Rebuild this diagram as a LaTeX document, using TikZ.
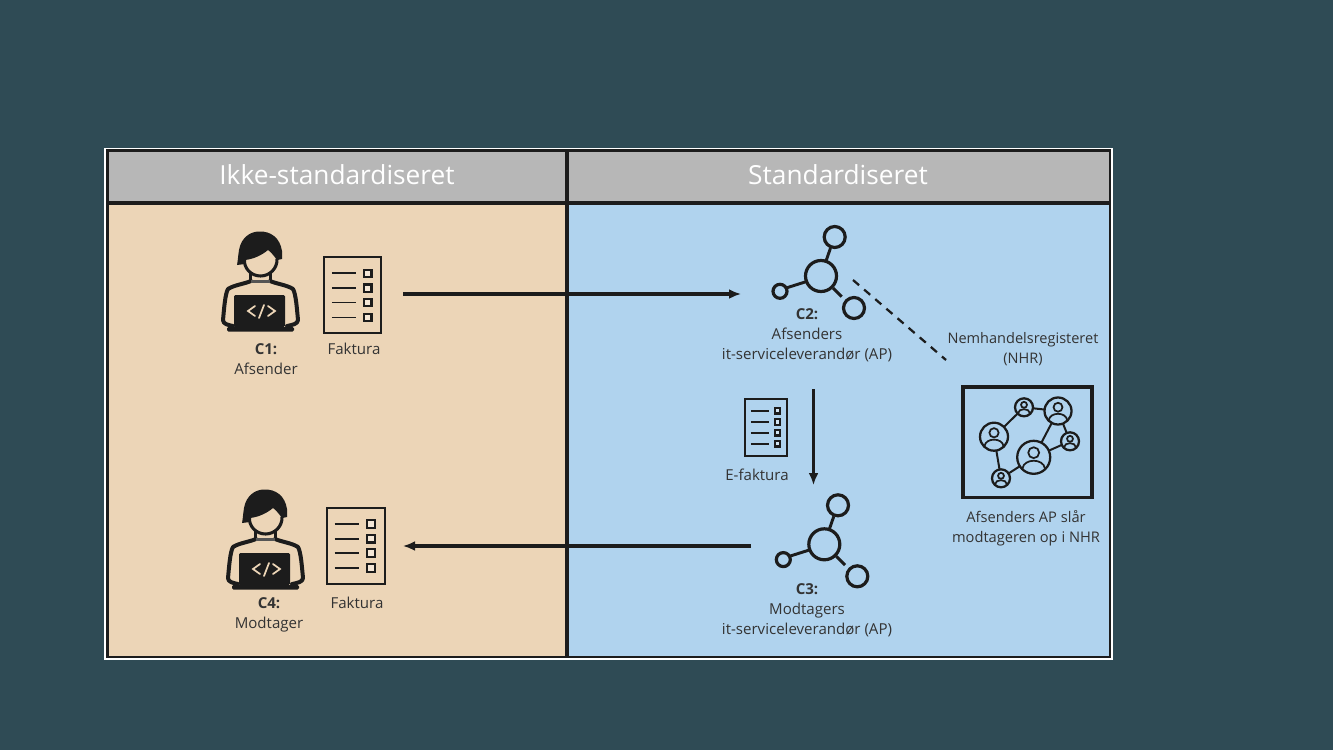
\documentclass[tikz,border=0pt]{standalone}
\usepackage{fontspec}
\setmainfont{Open Sans}
\usetikzlibrary{arrows.meta}
\definecolor{bgc}{HTML}{2F4B55}
\definecolor{peach}{HTML}{ECD5B7}
\definecolor{skyc}{HTML}{B0D3EE}
\definecolor{headc}{HTML}{B7B7B7}
\definecolor{ink}{HTML}{1C1C1C}
\tikzset{
  x=0.75pt,y=-0.75pt,
  txt/.style={font=\fontsize{11.3pt}{15pt}\selectfont,text=ink!90,align=center,inner sep=0},
  head/.style={font=\fontsize{19.7pt}{22pt}\selectfont,text=white,inner sep=0},
  flow/.style={draw=ink,fill=ink,line width=3.2pt,arrows={-Latex[length=9pt,width=7.5pt]}},
  ring/.style={draw=ink,line width=2.4pt,fill=none},
  pics/coder/.style={code={
    \fill[ink] (-23,3) .. controls (-22,-2) and (-22,-6) .. (-21,-12)
      .. controls (-19,-24) and (-10,-30.5) .. (-1,-30.5)
      .. controls (11,-31) and (20,-24) .. (22,-11) -- (22,-3) -- (17,-2)
      .. controls (14,-6) and (11,-10) .. (8,-12)
      .. controls (2,-7) and (-6,-3) .. (-15,-2) -- (-15,2) -- cycle;
    \draw[ink,line width=2.3pt] (-15.5,-3) .. controls (-16.5,6) and (-9,14) .. (0.5,14)
      .. controls (10,14) and (17.5,6) .. (17,-3);
    \draw[ink,line width=2.3pt] (-9.5,11) -- (-9.5,18);
    \draw[ink,line width=2.3pt] (10.5,11) -- (10.5,18);
    \draw[ink,line width=3pt,line cap=round,line join=round]
      (-9,19) .. controls (-16,22) and (-26,23) .. (-32,27) .. controls (-35,32) and (-36,48) .. (-37,58)
      .. controls (-37,62) and (-32,63) .. (-27,64);
    \draw[ink,line width=3pt,line cap=round,line join=round]
      (10,19) .. controls (17,22) and (27,23) .. (33,27) .. controls (36,32) and (37,48) .. (38,58)
      .. controls (38,62) and (32,63) .. (27,64);
    \draw[ink!75,line width=1.6pt] (-9,19.5) -- (10,19.5);
    \fill[ink,rounded corners=1pt] (-26,33) rectangle (25,65);
    \fill[ink,rounded corners=1pt] (-33,65) rectangle (34,69.5);
    \draw[peach,line width=1.3pt,line cap=round] (-5,44) -- (-12,49) -- (-5,54);
    \draw[peach,line width=1.3pt,line cap=round] (8,44) -- (15,49) -- (8,54);
    \draw[peach,line width=1.3pt,line cap=round] (-1,56) -- (4,43);
  }},
  pics/hub/.style={code={
    \draw[ring] (0,0) circle (15.5);
    \draw[ring] (13.7,-39) circle (10.5);
    \draw[ring] (-41,15.3) circle (7);
    \draw[ring] (33,32) circle (10.5);
    \draw[ink,line width=2.2pt] (5,-15) -- (9.5,-28);
    \draw[ink,line width=2.2pt] (-15,5.7) -- (-34,11.7);
    \draw[ink,line width=2.2pt] (12,12) -- (20.7,20.7);
  }},
  pics/docfour/.style args={#1/#2}{code={
    \pgfmathsetmacro{\hw}{#1/2}\pgfmathsetmacro{\hh}{#2/2}
    \draw[ink,line width=1.5pt,fill=none] (-\hw,-\hh) rectangle (\hw,\hh);
    \foreach \f in {-0.57,-0.18,0.2,0.59}{
      \pgfmathsetmacro{\yy}{\f*\hh}
      \draw[ink,line width=1.3pt] (-0.72*\hw,\yy) -- (0.13*\hw,\yy);
      \pgfmathsetmacro{\sq}{0.13*\hw}
      \fill[white,opacity=0.45] ({0.54*\hw-\sq},{\yy-\sq}) rectangle ({0.54*\hw+\sq},{\yy+\sq});
      \draw[ink,line width=1.6pt] ({0.54*\hw-\sq},{\yy-\sq}) rectangle ({0.54*\hw+\sq},{\yy+\sq});
    }
  }},
}
\newcommand{\netperson}[3]{%
  \draw[ink,line width=1.7pt,fill=skyc] (#1,#2) circle (#3);
  \draw[ink,line width=1.3pt] (#1,#2-0.28*#3) circle (0.33*#3);
  \draw[ink,line width=1.3pt] ({#1-0.68*#3},{#2+0.68*#3}) .. controls ({#1-0.6*#3},{#2+0.05*#3}) and ({#1+0.6*#3},{#2+0.05*#3}) .. ({#1+0.68*#3},{#2+0.68*#3});
}
\begin{document}
\begin{tikzpicture}
\useasboundingbox (0,0) rectangle (1333,750);
\fill[bgc] (0,0) rectangle (1333,750);
\draw[white,line width=1pt,fill=ink] (105,148.5) rectangle (1112,659);
\fill[headc] (109,152) rectangle (564.5,201);
\fill[headc] (569,152) rectangle (1109,201);
\fill[peach] (109,205) rectangle (564.5,655.5);
\fill[skyc] (569,205) rectangle (1109,655.5);
\node[head] (h1) at (337,174.5) {Ikke-standardiseret};
\node[head] (h2) at (838,174.5) {Standardiseret};

% icons
\pic at (260,262) {coder};
\pic at (265,520) {coder};
\pic at (352.4,295) {docfour=57/76};
\pic at (355.5,545.5) {docfour=58/76};
\pic at (766,427) {docfour=42/57};
\pic at (821,276) {hub};
\pic at (824.3,544.3) {hub};

% text
\node[txt] (c1) at (266,359) {\textbf{C1:}\\Afsender};
\node[txt] (f1) at (354,349) {Faktura};
\node[txt] (c2) at (807,335.5) {\textbf{C2:}\\Afsenders\\it-serviceleverandør (AP)};
\node[txt,font=\fontsize{10.9pt}{15pt}\selectfont] (nhrl) at (1023,349) {Nemhandelsregisteret\\(NHR)};
\node[txt] (ef) at (757,475) {E-faktura};
\node[txt,font=\fontsize{11pt}{15pt}\selectfont] (lookup) at (1026,528) {Afsenders AP slår\\modtageren op i NHR};
\node[txt] (c3) at (807,610) {\textbf{C3:}\\Modtagers\\it-serviceleverandør (AP)};
\node[txt] (c4) at (269,615) {\textbf{C4:}\\Modtager};
\node[txt] (f4) at (357,603) {Faktura};

% NHR box
\draw[ink,line width=2.6pt] (963,387) rectangle (1092,497.5);
\coordinate (na) at (994,436.7);
\coordinate (nb) at (1024,407.3);
\coordinate (nc) at (1058,411);
\coordinate (nd) at (1070,441.3);
\coordinate (ne) at (1033.7,457.3);
\coordinate (nf) at (1001,478.3);
\draw[ink,line width=1.5pt] (na)--(nb) (nb)--(nc) (nc)--(ne) (nc)--(nd) (nd)--(ne) (na)--(nf) (nf)--(ne) ;
\netperson{994}{436.7}{14}
\netperson{1024}{407.3}{9}
\netperson{1058}{411}{13.5}
\netperson{1070}{441.3}{9}
\netperson{1033.7}{457.3}{16.5}
\netperson{1001}{478.3}{9}

% connectors
\coordinate (a1s) at (403,294);
\coordinate (a1e) at (741,294);
\coordinate (d1s) at (853,280);
\coordinate (d1e) at (946,360);
\coordinate (a2s) at (813.5,389);
\coordinate (a2e) at (813.5,485);
\coordinate (a3s) at (751,546);
\coordinate (a3e) at (403,546);
\draw[flow] (a1s) -- (a1e);
\draw[ink,line width=1.7pt,dash pattern=on 6pt off 5pt] (d1s) -- (d1e);
\draw[flow,line width=2.4pt] (a2s) -- (a2e);
\draw[flow,line width=2.6pt] (a3s) -- (a3e);
\end{tikzpicture}
\end{document}
